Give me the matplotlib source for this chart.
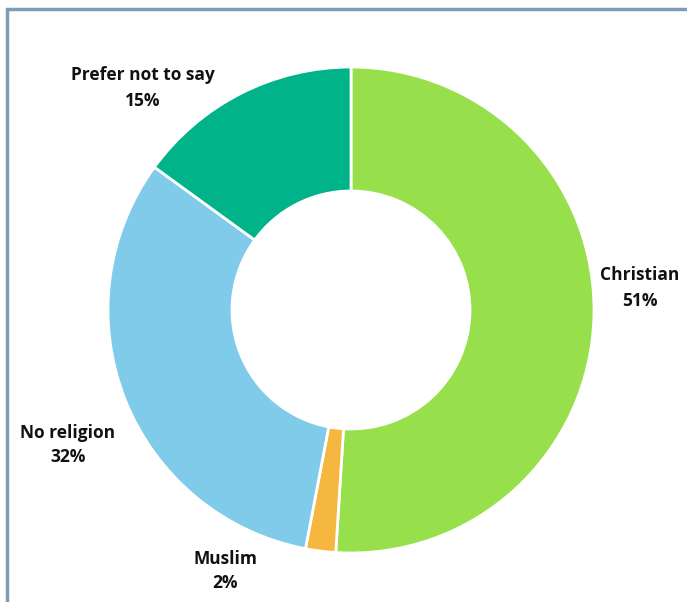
import matplotlib.pyplot as plt
from matplotlib.patches import Rectangle

religions = ['Christian', 'Muslim', 'No religion', 'Prefer not to say']
shares = [51, 2, 32, 15]
colours = ['#97DF4B', '#F5B740', '#80CAEA', '#00B388']

W, H = 687, 602
fig = plt.figure(figsize=(W / 100, H / 100), dpi=100)
ax = fig.add_axes([0, 0, 1, 1])

# donut, clockwise from 12 o'clock
ax.pie(shares, colors=colours, startangle=90, counterclock=False,
       center=(351, H - 310), radius=243, frame=True,
       wedgeprops=dict(width=124, edgecolor='white', linewidth=2))
ax.set_xlim(0, W)
ax.set_ylim(0, H)
ax.set_aspect('equal')
ax.axis('off')

# label anchors (x, y from top)
label_pos = [(640, 288), (225, 571), (68, 445), (143, 88)]
for name, val, (x, y) in zip(religions, shares, label_pos):
    ax.text(x, H - y, f'{name}\n{val}%', ha='center', va='center',
            fontsize=12.5, fontweight='bold', family='Open Sans',
            linespacing=1.5, color='#111111')

# outer frame, open at right and bottom
fig.patches.append(Rectangle((7 / W, -0.1), 1.2, (H - 9) / H + 0.1,
                             transform=fig.transFigure, fill=False,
                             edgecolor='#7E9CB8', linewidth=2.5))

fig.savefig('out.png', dpi=100)
